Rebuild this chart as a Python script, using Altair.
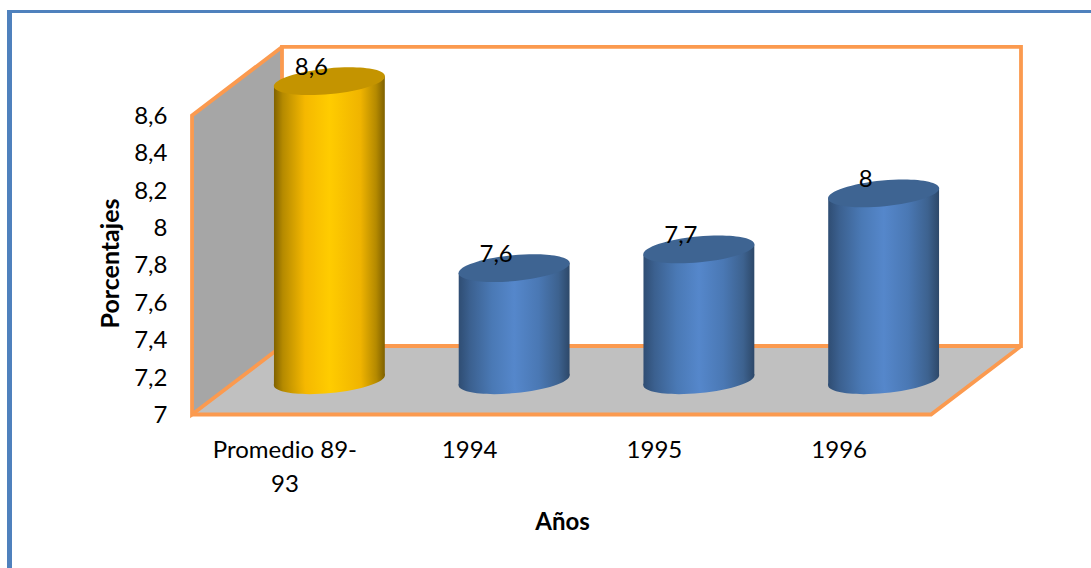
import json

import altair as alt
import pandas as pd

# Chart values
categories = [["Promedio 89-", "93"], "1994", "1995", "1996"]
highlight_values = [8.6]
regular_values = [7.6, 7.7, 8]
axis_ticks = [7, 7.2, 7.4, 7.6, 7.8, 8, 8.2, 8.4, 8.6]

FONT = "Lato"
TEXT_SIZE = 24

# The oblique box is laid out in data units: the depth shifts both scales.
DEPTH_X = 0.487
DEPTH_Y = 0.3665
BOX_LEFT, BOX_RIGHT = -0.5, 3.5
BOX_FLOOR, BOX_TOP = 7, 8.6
CYL_WIDTH = 0.6
CAP_SLOPE = 0.0268

ORANGE = "#fb9a4f"
BORDER = "#4f81bd"

x_scale = alt.Scale(domain=[-1.5394, 4.3659], nice=False, zero=False)
y_scale = alt.Scale(domain=[6.1787, 9.2178], nice=False, zero=False)

x_axis = alt.Axis(
    values=[0, 1, 2, 3],
    labelExpr=f"{json.dumps(categories)}[datum.value]",
    title="Años", titleFont=FONT, titleFontSize=24, titleFontWeight="bold",
    titleColor="black", titleX=562, titleY=84, titleBaseline="middle",
    labelFont=FONT, labelFontSize=TEXT_SIZE, labelColor="black", labelLineHeight=34,
    labelBaseline="top", labelPadding=0, labelOverlap=False, labelFlush=False,
    domain=False, ticks=False, grid=False, offset=-130,
)
y_axis = alt.Axis(
    values=axis_ticks,
    labelExpr="replace(format(datum.value, '~g'), '.', ',')",
    title="Porcentajes", titleFont=FONT, titleFontSize=25, titleFontWeight="bold",
    titleColor="black", titleX=-57, titleY=263, titleBaseline="middle",
    labelFont=FONT, labelFontSize=TEXT_SIZE, labelColor="black", labelOffset=1,
    labelPadding=0, labelOverlap=False, labelFlush=False,
    domain=False, ticks=False, grid=False, offset=-167,
)


def X(field):
    return alt.X(field, type="quantitative", scale=x_scale, axis=x_axis)


def Y(field):
    return alt.Y(field, type="quantitative", scale=y_scale, axis=y_axis)


def gradient(stops):
    return {
        "gradient": "linear", "x1": 0, "x2": 1, "y1": 0, "y2": 0,
        "stops": [{"offset": o, "color": c} for o, c in stops],
    }


# Box faces
wall = alt.Chart(pd.DataFrame({
    "x": [BOX_LEFT, BOX_LEFT + DEPTH_X],
    "y": [BOX_FLOOR, BOX_FLOOR + DEPTH_Y],
    "y2": [BOX_TOP, BOX_TOP + DEPTH_Y],
})).mark_area(orient="vertical", color="#a6a6a6").encode(x=X("x"), y=Y("y"), y2="y2")

floor = alt.Chart(pd.DataFrame({
    "y": [BOX_FLOOR, BOX_FLOOR + DEPTH_Y],
    "x": [BOX_LEFT, BOX_LEFT + DEPTH_X],
    "x2": [BOX_RIGHT, BOX_RIGHT + DEPTH_X],
})).mark_area(orient="horizontal", color="#c0c0c0").encode(y=Y("y"), x=X("x"), x2="x2")

# Box edges, one polyline each
bl, br = BOX_LEFT, BOX_RIGHT
bb, bt = BOX_FLOOR, BOX_TOP
dx, dy = DEPTH_X, DEPTH_Y
edge_paths = [
    [(bl + dx, bb + dy), (bl + dx, bt + dy), (br + dx, bt + dy), (br + dx, bb + dy), (bl + dx, bb + dy)],
    [(bl + dx, bb + dy), (bl, bb), (bl, bt), (bl + dx, bt + dy)],
    [(bl, bb), (br, bb), (br + dx, bb + dy)],
]
edge_rows = [
    {"edge": e, "step": s, "x": px, "y": py}
    for e, path in enumerate(edge_paths)
    for s, (px, py) in enumerate(path)
]
edges = alt.Chart(pd.DataFrame(edge_rows)).mark_line(
    color=ORANGE, strokeWidth=3.8, strokeJoin="miter"
).encode(x=X("x"), y=Y("y"), detail="edge:N", order="step:Q")

# Tilted ellipse as a unit symbol, cylinder radius gives its size
K = 0.5523
B = 0.231
ELLIPSE = (
    f"M -1 0 C -1 {-K*B:.4f} {-K} {-B} 0 {-B} C {K} {-B} 1 {-K*B:.4f} 1 0 "
    f"C 1 {K*B:.4f} {K} {B} 0 {B} C {-K} {B} -1 {K*B:.4f} -1 0 Z"
)
ELLIPSE_SIZE = 12455
TILT = 354.57
BASE = BOX_FLOOR + DEPTH_Y / 2


def cylinders(positions, values, body, top):
    df = pd.DataFrame({"i": positions, "value": values})
    df["cx"] = df["i"] + DEPTH_X / 2
    df["top"] = df["value"] + DEPTH_Y / 2
    df["base"] = BASE
    caps = dict(shape=ELLIPSE, size=ELLIPSE_SIZE, angle=TILT, filled=True, opacity=1, strokeWidth=0)
    layers = [
        alt.Chart(df).mark_point(color=gradient(body), **caps).encode(x=X("cx"), y=Y("base"))
    ]
    # The shaft is a slanted quad whose side ends meet the tilted caps
    for row in df.itertuples():
        quad = pd.DataFrame({
            "x": [row.cx - CYL_WIDTH / 2, row.cx + CYL_WIDTH / 2],
            "y": [row.base - CAP_SLOPE, row.base + CAP_SLOPE],
            "y2": [row.top - CAP_SLOPE, row.top + CAP_SLOPE],
        })
        layers.append(
            alt.Chart(quad).mark_area(orient="vertical", color=gradient(body)).encode(
                x=X("x"), y=Y("y"), y2="y2"
            )
        )
    layers.append(alt.Chart(df).mark_point(color=top, **caps).encode(x=X("cx"), y=Y("top")))
    label = alt.Chart(df).transform_calculate(
        label="replace(format(datum.value, '~g'), '.', ',')"
    ).mark_text(
        font=FONT, fontSize=TEXT_SIZE, color="black", align="center",
        baseline="alphabetic", dx=-18, dy=-6,
    ).encode(x=X("cx"), y=Y("top"), text="label:N")
    return layers, label


yellow_stops = [(0, "#806200"), (0.08, "#b58a00"), (0.28, "#f5b800"), (0.5, "#ffcc00"),
                (0.78, "#f0b400"), (0.92, "#b58a00"), (1, "#7f6100")]
blue_stops = [(0, "#2f4d73"), (0.1, "#3b608f"), (0.3, "#4a79b5"), (0.5, "#5587cb"),
              (0.72, "#4a78b4"), (0.9, "#3d628f"), (1, "#2d4869")]

y_parts, y_label = cylinders([0], highlight_values, yellow_stops, "#c49400")
b_parts, b_label = cylinders([1, 2, 3], regular_values, blue_stops, "#3e6492")

# Page frame along the top and left edges
blank = pd.DataFrame({"a": [0]})
frame_left = alt.Chart(blank).mark_rule(color=BORDER, strokeWidth=5).encode(
    x=alt.value(9.5), y=alt.value(10), y2=alt.value(568)
)
frame_top = alt.Chart(blank).mark_rule(color=BORDER, strokeWidth=3).encode(
    y=alt.value(11.5), x=alt.value(7), x2=alt.value(1091)
)

chart = alt.layer(
    frame_left, frame_top, wall, floor, edges,
    *y_parts, *b_parts, y_label, b_label,
).properties(
    width=1091, height=568, padding=0, background="white",
    autosize=alt.AutoSizeParams(type="none"),
).configure_view(stroke=None)

chart.save("out.html", embed_options={"renderer": "svg", "actions": False})
